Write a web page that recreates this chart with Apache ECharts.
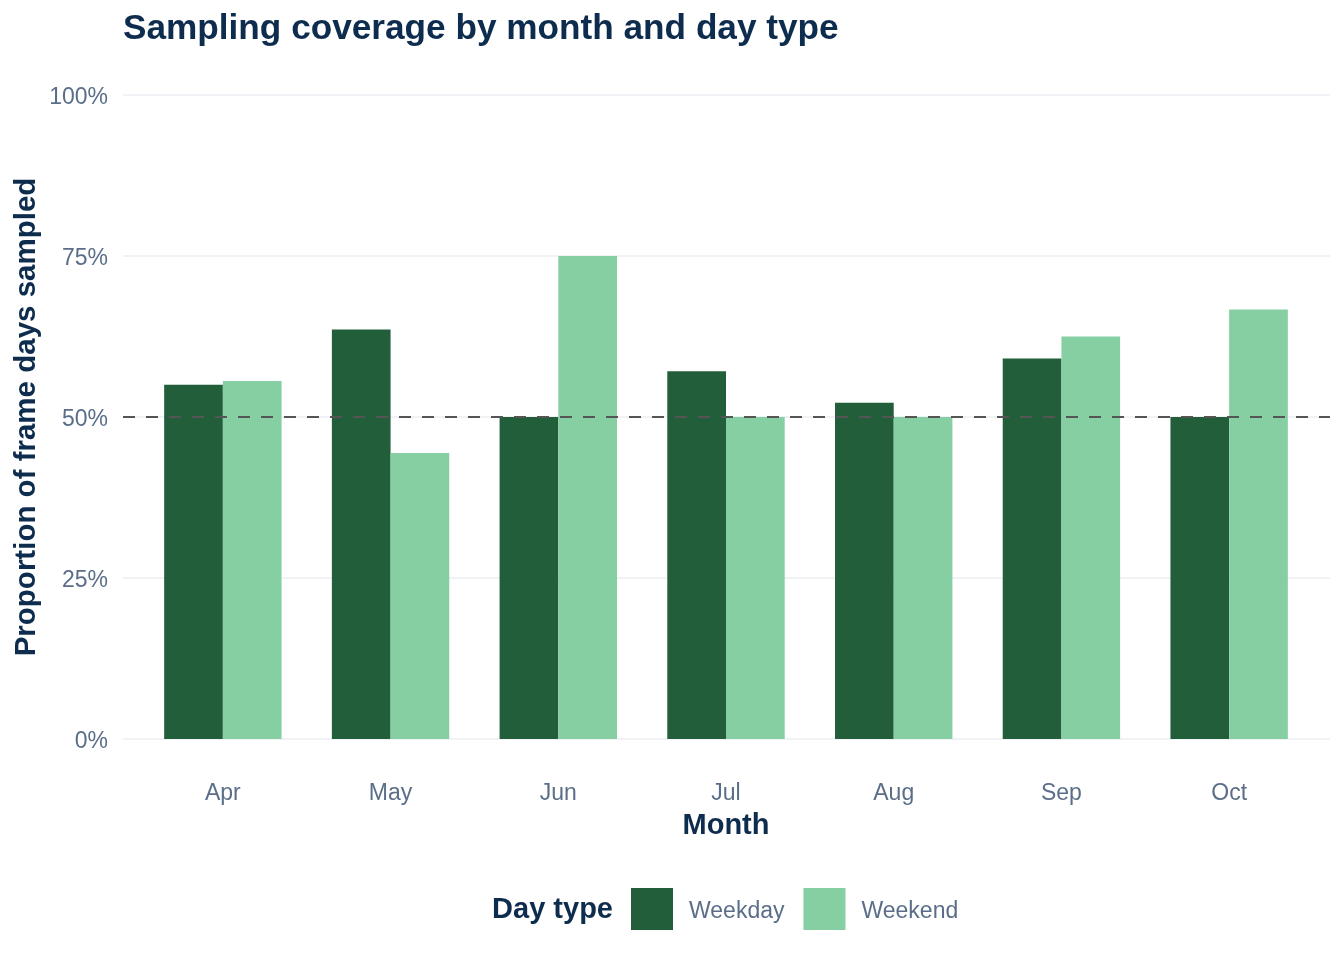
<!DOCTYPE html>
<html>
<head>
    <meta charset="utf-8">
    <title>Sampling coverage</title>
    <script src="https://cdn.jsdelivr.net/npm/echarts@6/dist/echarts.min.js"></script>
    <style>
        html, body { margin: 0; padding: 0; background: #ffffff; }
        #chart { width: 1344px; height: 960px; }
    </style>
</head>
<body>
<div id="chart"></div>
<script>
    // data
    var months = ['Apr', 'May', 'Jun', 'Jul', 'Aug', 'Sep', 'Oct'];
    var weekday = [0.55, 0.636, 0.50, 0.571, 0.522, 0.591, 0.50];
    var weekend = [0.556, 0.444, 0.75, 0.50, 0.50, 0.625, 0.667];
    var yTicks = [0, 0.25, 0.5, 0.75, 1];
    var refLine = 0.5;

    var fontFam = '"Liberation Sans", Arial, Helvetica, sans-serif';
    var navy = '#0E2D4E';
    var tickCol = '#5B6E89';

    var chart = echarts.init(document.getElementById('chart'), null, {renderer: 'canvas'});

    // shifted text block (pushes the label a few px down)
    var lowTxt = { color: tickCol, fontSize: 23, fontFamily: fontFam, padding: [5, 0, 0, 0] };

    var option = {
        backgroundColor: '#ffffff',
        animation: false,
        textStyle: { fontFamily: fontFam },
        grid: [
            // full panel (gridlines + reference line)
            { left: 123, right: 14, top: 95, bottom: 221 },
            // bars, inset by ggplot's discrete expansion
            { left: 139, right: 31, top: 95, bottom: 221 }
        ],
        xAxis: [
            { type: 'value', gridIndex: 0, min: 0, max: 1, show: false },
            {
                type: 'category', gridIndex: 1, data: months,
                axisLine: { show: false }, axisTick: { show: false },
                axisLabel: { color: tickCol, fontSize: 23, margin: 43, fontFamily: fontFam }
            }
        ],
        yAxis: [
            {
                type: 'value', gridIndex: 0, min: yTicks[0], max: yTicks[yTicks.length - 1], interval: 0.25,
                axisLine: { show: false }, axisTick: { show: false },
                axisLabel: {
                    color: tickCol, fontSize: 23, margin: 15, fontFamily: fontFam,
                    formatter: function (v) { return '{t|' + Math.round(v * 100) + '%}'; },
                    rich: { t: lowTxt }
                },
                splitLine: { lineStyle: { color: '#EBEEF2', width: 1.5 } }
            },
            { type: 'value', gridIndex: 1, min: 0, max: 1, show: false }
        ],
        legend: {
            left: 631, top: 888, padding: 0,
            itemWidth: 42, itemHeight: 42, itemGap: 19,
            icon: 'rect',
            data: ['Weekday', 'Weekend'],
            formatter: function (name) { return '{t|' + name + '}'; },
            textStyle: { color: tickCol, fontSize: 23, padding: [0, 0, 0, 11], fontFamily: fontFam, rich: { t: lowTxt } }
        },
        graphic: [
            {
                type: 'text', left: 123, top: 12,
                style: { text: 'Sampling coverage by month and day type', fill: navy, font: 'bold 35.2px ' + fontFam }
            },
            {
                type: 'text', x: 726, y: 826,
                style: { text: 'Month', fill: navy, font: 'bold 29px ' + fontFam, textAlign: 'center', textVerticalAlign: 'middle' }
            },
            {
                type: 'text', x: 27, y: 417, rotation: Math.PI / 2,
                style: { text: 'Proportion of frame days sampled', fill: navy, font: 'bold 29.5px ' + fontFam, textAlign: 'center', textVerticalAlign: 'middle' }
            },
            {
                type: 'text', x: 613, y: 910,
                style: { text: 'Day type', fill: navy, font: 'bold 29px ' + fontFam, textAlign: 'right', textVerticalAlign: 'middle' }
            }
        ],
        series: [
            {
                name: 'Weekday', type: 'bar', xAxisIndex: 1, yAxisIndex: 1,
                data: weekday, barGap: '0%', barCategoryGap: '30%',
                itemStyle: { color: '#235E3A' }, z: 2
            },
            {
                name: 'Weekend', type: 'bar', xAxisIndex: 1, yAxisIndex: 1,
                data: weekend, barGap: '0%', barCategoryGap: '30%',
                itemStyle: { color: '#86CFA2' }, z: 2
            },
            {
                name: 'ref', type: 'line', xAxisIndex: 0, yAxisIndex: 0,
                data: [[0, null]], z: 10, silent: true,
                markLine: {
                    symbol: 'none', silent: true, label: { show: false },
                    lineStyle: { color: '#555555', type: [12, 11], width: 2 },
                    data: [{ yAxis: refLine }]
                }
            }
        ]
    };
    chart.setOption(option);
</script>
</body>
</html>
